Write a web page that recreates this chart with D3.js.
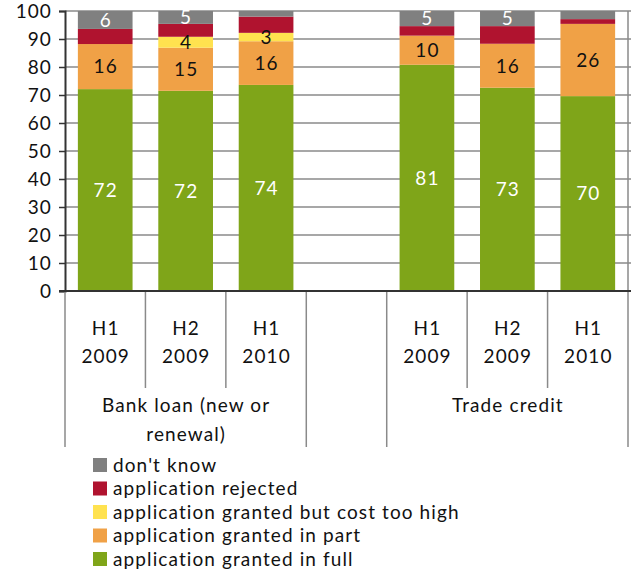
<!DOCTYPE html>
<html>
<head>
<meta charset="utf-8">
<script src="https://cdn.jsdelivr.net/npm/d3@7"></script>
<style>
  body { margin: 0; background: #fff; }
  svg text { font-family: Lato, "Noto Sans", sans-serif; letter-spacing: 1.1px; }
</style>
</head>
<body>
<div id="chart"></div>
<script>
// data (percent of applications)
const slots = ["b1", "b2", "b3", "gap", "t1", "t2", "t3"];
const periodTop = ["H1", "H2", "H1", "", "H1", "H2", "H1"];
const periodBottom = ["2009", "2009", "2010", "", "2009", "2009", "2010"];
const groups = [
  { lines: ["Bank loan (new or", "renewal)"], from: 0, to: 3 },
  { lines: ["Trade credit"], from: 4, to: 7 }
];
const seriesNames = ["full", "part", "costly", "rejected", "dontknow"];
const legendLabels = {
  dontknow: "don't know",
  rejected: "application rejected",
  costly: "application granted but cost too high",
  part: "application granted in part",
  full: "application granted in full"
};
const colors = {
  full: "#7fa519", part: "#f0a146", costly: "#ffe24f",
  rejected: "#b0132f", dontknow: "#808080"
};
const full     = [72.1, 71.5, 73.6, null, 80.8, 72.6, 69.6];
const part     = [16.1, 15.4, 15.6, null, 10.4, 15.7, 25.8];
const costly   = [0,    3.9,  3.0,  null, 0,    0,    0];
const rejected = [5.4,  4.6,  5.8,  null, 3.4,  6.3,  1.7];
const dontknow = [6.4,  4.6,  2.0,  null, 5.4,  5.4,  2.9];
const yTicks = [0, 10, 20, 30, 40, 50, 60, 70, 80, 90, 100];

const width = 631, height = 573;
const plotLeft = 65, plotRight = 628, plotTop = 11, plotBottom = 291;
const fontSize = 19;

const rows = slots.map((s, i) => ({
  slot: s, full: full[i], part: part[i], costly: costly[i],
  rejected: rejected[i], dontknow: dontknow[i]
})).filter(d => d.full !== null);

const svg = d3.select("#chart").append("svg")
  .attr("width", width).attr("height", height);

const x = d3.scaleBand().domain(slots).range([plotLeft, plotRight])
  .paddingInner(0.32).paddingOuter(0.16);
const y = d3.scaleLinear().domain([0, 100]).range([plotBottom, plotTop]);
// slot boundaries (no padding), used for the divider lines
const edge = i => plotLeft + i * (plotRight - plotLeft) / slots.length;

// gridlines
svg.append("g").selectAll("line").data(yTicks.filter(t => t > 0)).join("line")
  .attr("x1", plotLeft).attr("x2", width)
  .attr("y1", d => y(d)).attr("y2", d => y(d))
  .attr("stroke", "#8a8a8a").attr("stroke-width", 1.5);

// right border of plot
svg.append("line").attr("x1", plotRight).attr("x2", plotRight)
  .attr("y1", plotTop).attr("y2", plotBottom)
  .attr("stroke", "#8a8a8a").attr("stroke-width", 1.5);

// stacked bars
const stack = d3.stack().keys(seriesNames)(rows);
const layer = svg.append("g").selectAll("g").data(stack).join("g")
  .attr("fill", d => colors[d.key]);
layer.selectAll("rect").data(d => d).join("rect")
  .attr("x", d => x(d.data.slot))
  .attr("width", x.bandwidth())
  .attr("y", d => y(d[1]))
  .attr("height", d => y(d[0]) - y(d[1]));

// value labels
const labelColor = { full: "#fff", part: "#111", costly: "#111", dontknow: "#fff" };
svg.append("g").selectAll("g").data(stack.filter(s => s.key !== "rejected")).join("g")
  .attr("fill", d => labelColor[d.key])
  .selectAll("text")
  .data(d => d.filter(p => p[1] - p[0] >= 3))
  .join("text")
  .attr("x", d => x(d.data.slot) + x.bandwidth() / 2 + 0.5)
  .attr("y", d => (y(d[0]) + y(d[1])) / 2)
  .attr("dy", "0.36em")
  .attr("text-anchor", "middle")
  .attr("font-size", fontSize)
  .text(d => (d[1] - d[0]).toFixed(0));

// y axis
const yAxis = svg.append("g").attr("transform", `translate(${plotLeft},0)`)
  .call(d3.axisLeft(y).tickValues(yTicks).tickSize(6).tickPadding(7));
yAxis.select(".domain").attr("stroke", "#333").attr("stroke-width", 2);
yAxis.selectAll(".tick line").attr("stroke", "#333").attr("stroke-width", 1.5);
yAxis.selectAll(".tick text").attr("font-size", fontSize).attr("fill", "#111")
  .attr("font-family", null);

// category dividers below the axis
const bounds = d3.range(slots.length + 1);
const longEdge = new Set([0, 3, 4, 7]);
svg.append("g").selectAll("line").data(bounds).join("line")
  .attr("x1", i => edge(i)).attr("x2", i => edge(i))
  .attr("y1", plotBottom).attr("y2", i => longEdge.has(i) ? 447 : 388)
  .attr("stroke", "#8a8a8a").attr("stroke-width", 1.5);

// x axis line
svg.append("line").attr("x1", plotLeft - 6).attr("x2", width)
  .attr("y1", plotBottom).attr("y2", plotBottom)
  .attr("stroke", "#333").attr("stroke-width", 2);

// period labels
const catText = svg.append("g").attr("font-size", fontSize).attr("fill", "#111")
  .attr("text-anchor", "middle");
catText.selectAll("text.top").data(slots).join("text").attr("class", "top")
  .attr("x", s => x(s) + x.bandwidth() / 2 + 0.5).attr("y", 335)
  .text((s, i) => periodTop[i]);
catText.selectAll("text.bot").data(slots).join("text").attr("class", "bot")
  .attr("x", s => x(s) + x.bandwidth() / 2 + 0.5).attr("y", 363)
  .text((s, i) => periodBottom[i]);

// group labels
groups.forEach(g => {
  const cx = (edge(g.from) + edge(g.to)) / 2 + 0.5;
  g.lines.forEach((line, j) => {
    catText.append("text").attr("x", cx).attr("y", 412 + j * 29).text(line);
  });
});

// legend
const legendOrder = ["dontknow", "rejected", "costly", "part", "full"];
const legend = svg.append("g").attr("transform", "translate(93,458)");
const item = legend.selectAll("g").data(legendOrder).join("g")
  .attr("transform", (d, i) => `translate(0,${i * 23.5})`);
item.append("rect").attr("width", 14).attr("height", 14)
  .attr("fill", d => colors[d]);
item.append("text").attr("x", 20).attr("y", 7).attr("dy", "0.36em")
  .attr("font-size", fontSize).attr("fill", "#111")
  .text(d => legendLabels[d]);
</script>
</body>
</html>
